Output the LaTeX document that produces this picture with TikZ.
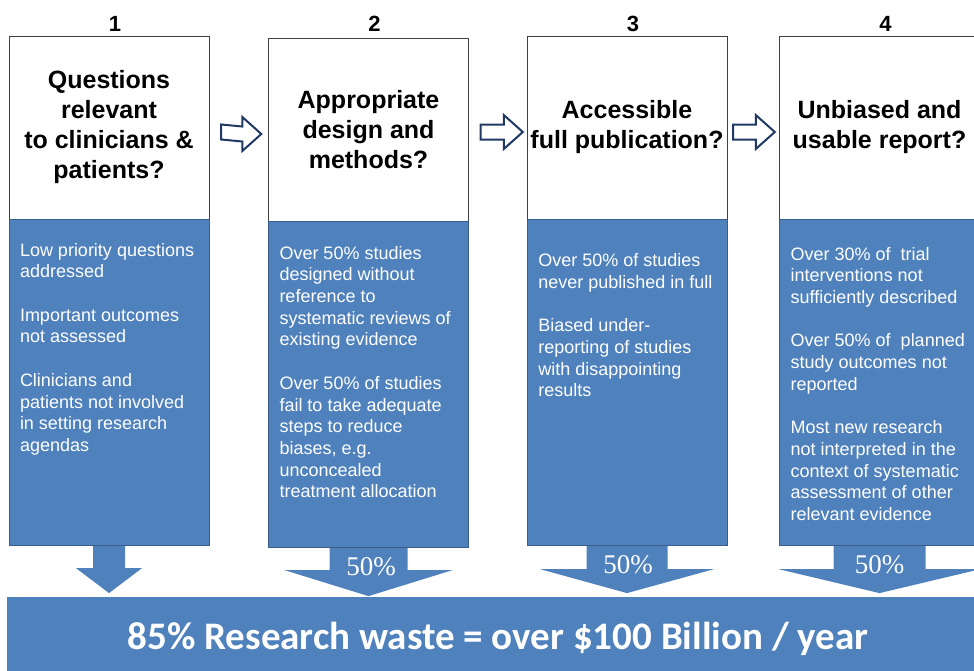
\documentclass[tikz,border=0pt]{standalone}
\usepackage{fontspec}
\setmainfont{Liberation Sans}
\newfontfamily\serifpct{Liberation Serif}
\newfontfamily\calibri{Carlito}
\usetikzlibrary{positioning,calc}
\definecolor{wasteblue}{RGB}{79,129,189}
\definecolor{blueedge}{RGB}{56,93,138}
\definecolor{navy}{RGB}{31,56,100}
\newcommand\wastearrow[5]{\fill[wasteblue](#1.south)++(-#2,0.5)--++(0,#4)--++(#2-#3,0)--++(#3,#5)--++(#3,-#5)--++(#2-#3,0)--++(0,-#4)--cycle;}
\begin{document}
\begin{tikzpicture}[x=1pt,y=-1pt,
    qbox/.style={draw=black!75,fill=white,minimum width=200,minimum height=183,inner sep=0,align=center,font=\bfseries\fontsize{25}{30}\selectfont},
    pbox/.style={draw=blueedge,fill=wasteblue,minimum width=200,minimum height=326,inner sep=0,below=0pt of #1},
    ptext/.style={text=white,align=left,inner sep=0,anchor=north west,font=\fontsize{18}{21.7}\selectfont},
    numlabel/.style={inner sep=0,font=\bfseries\fontsize{22}{26}\selectfont},
    pct/.style={text=white,inner sep=0,font=\serifpct\fontsize{27}{30}\selectfont},
    hollow/.style={draw=navy,line width=2,fill=white,line join=miter,
      to path={($(\tikztostart)+(0,-7.5)$)--($(\tikztotarget)+(-19,-7.5)$)--++(0,-9.5)--(\tikztotarget)--++(-19,17)--++(0,-9.5)--($(\tikztostart)+(0,7.5)$)--cycle}},
    banner/.style={fill=wasteblue,minimum width=982,minimum height=81,inner sep=0,text=white,text height=23,text depth=0,font=\calibri\bfseries\fontsize{39}{44}\selectfont}]
\useasboundingbox(0,0)rectangle(974,670);
\clip(0,0)rectangle(974,670);
\node[qbox](q1)at(109,127.5){Questions\\relevant\\to clinicians \&\\patients?};
\node[qbox](q2)at(368.5,129.5){Appropriate\\design and\\methods?};
\node[qbox](q3)at(627,127.5){Accessible\\full publication?};
\node[qbox,minimum width=201](q4)at(879.5,127.5){Unbiased and\\usable report?};
\node[pbox=q1](p1){};
\node[pbox=q2](p2){};
\node[pbox=q3](p3){};
\node[pbox=q4,minimum width=201](p4){};
\node[numlabel,above=4pt of q1.north,xshift=6]{1};
\node[numlabel,above=6pt of q2.north,xshift=6]{2};
\node[numlabel,above=4pt of q3.north,xshift=6]{3};
\node[numlabel,above=4pt of q4.north,xshift=6]{4};
\node[ptext](t1)at([shift={(11,23.7)}]p1.north west){Low priority questions\\addressed\\[21.7pt]Important outcomes\\not assessed\\[21.7pt]Clinicians and\\patients not involved\\in setting research\\agendas};
\node[ptext](t2)at([shift={(11,24.7)}]p2.north west){Over 50\% studies\\designed without\\reference to\\systematic reviews of\\existing evidence\\[21.7pt]Over 50\% of studies\\fail to take adequate\\steps to reduce\\biases, e.g.\\unconcealed\\treatment allocation};
\node[ptext](t3)at([shift={(11.3,34.3)}]p3.north west){Over 50\% of studies\\never published in full\\[21.7pt]Biased under-\\reporting of studies\\with disappointing\\results};
\node[ptext](t4)at([shift={(11.7,27.7)}]p4.north west){Over 30\% of~ trial\\interventions not\\sufficiently described\\[21.7pt]Over 50\% of~ planned\\study outcomes not\\reported\\[21.7pt]Most new research\\not interpreted in the\\context of systematic\\assessment of other\\relevant evidence};
\draw[hollow]([shift={(12,4.5)}]q1.east)to([shift={(-7,4.5)}]q2.west);
\draw[hollow]([shift={(12,2.5)}]q2.east)to([shift={(-4,4.5)}]q3.west);
\draw[hollow]([shift={(6,4.5)}]q3.east)to([shift={(-4,4.5)}]q4.west);
\wastearrow{p1}{16}{33}{22}{25}
\wastearrow{p2}{39}{84}{22}{26}
\wastearrow{p3}{40.5}{87}{23}{24}
\wastearrow{p4}{46}{101}{23}{24}
\node[pct]at([shift={(2.5,19)}]p2.south){50\%};
\node[pct]at([shift={(1,19.5)}]p3.south){50\%};
\node[pct]at([shift={(0,19.5)}]p4.south){50\%};
\node[banner](waste)at(498,637.5){85\% Research waste = over \$100 Billion / year};
\end{tikzpicture}
\end{document}
